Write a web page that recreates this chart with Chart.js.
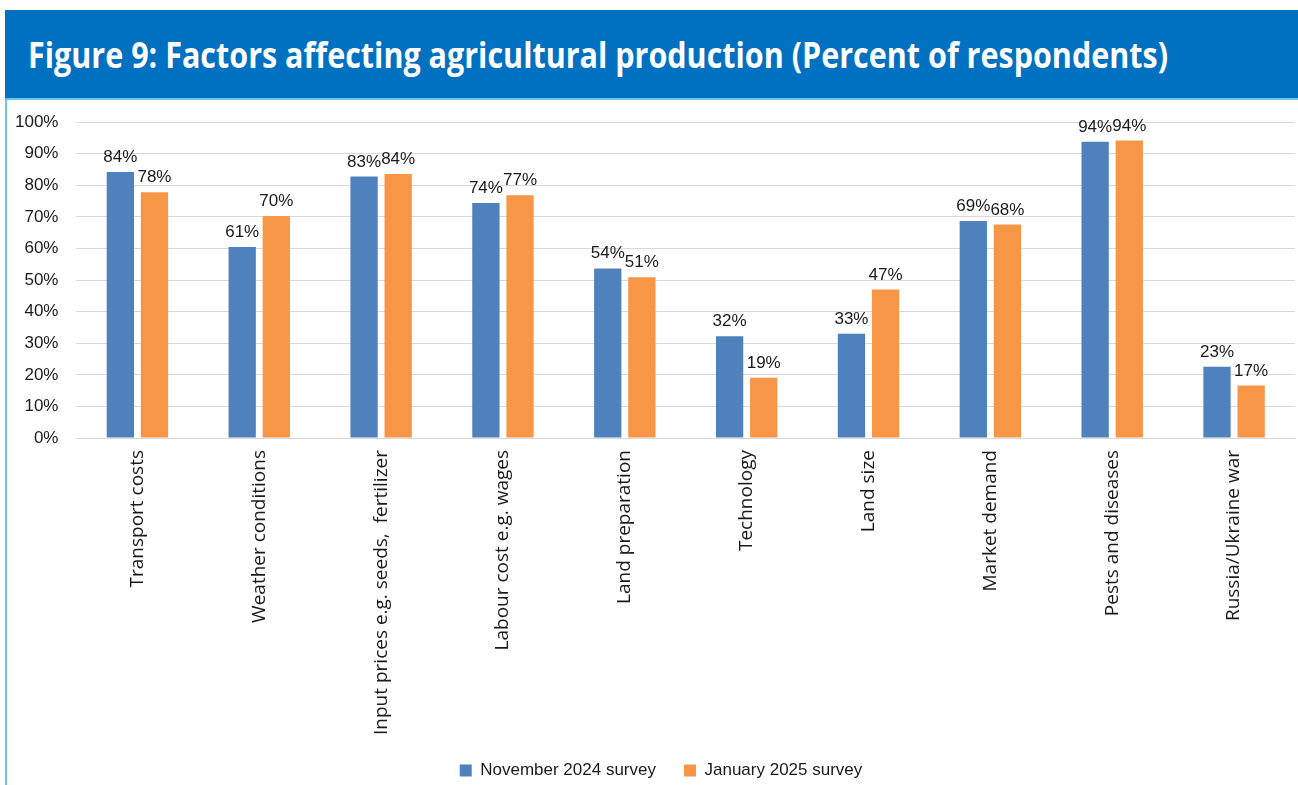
<!DOCTYPE html>
<html>
<head>
<meta charset="utf-8">
<script src="https://cdn.jsdelivr.net/npm/chart.js@4"></script>
<style>
  html, body { margin: 0; padding: 0; background: #fff; }
  body { width: 1298px; height: 785px; position: relative; overflow: hidden; }
  .banner {
    position: absolute; left: 5px; top: 10px; width: 1293px; height: 88px;
    background: #0070C0;
  }
  .banner span {
    position: absolute; left: 23px; top: 21px;
    font-family: "Open Sans", sans-serif; font-weight: 700; font-size: 35px;
    color: #fff; white-space: nowrap; transform-origin: 0 0;
  }
  .frame {
    position: absolute; left: 5px; top: 98px; width: 1293px; height: 687px;
    border-left: 2px solid #6cc4ee; border-top: 2px solid #6cc4ee;
    box-sizing: border-box;
  }
  /* the canvas runs a little past the page edges so the plot sits where it does in the figure */
  .chart-box { position: absolute; left: -11px; top: 94px; width: 1309px; height: 695px; }
</style>
</head>
<body>
<div class="banner"><span id="title">Figure 9: Factors affecting agricultural production (Percent of respondents)</span></div>
<div class="frame"></div>
<div class="chart-box"><canvas id="myChart"></canvas></div>
<script>
// data
const categories = [
  'Transport costs', 'Weather conditions', 'Input prices e.g. seeds,  fertilizer',
  'Labour cost e.g. wages', 'Land preparation', 'Technology', 'Land size',
  'Market demand', 'Pests and diseases', 'Russia/Ukraine war'
];
const nov2024 = [84.2, 60.5, 82.8, 74.4, 53.7, 32.2, 33.0, 68.7, 93.8, 22.6];
const jan2025 = [77.8, 70.3, 83.6, 76.9, 50.9, 19.1, 47.0, 67.6, 94.2, 16.6];
const yTicks = [0, 10, 20, 30, 40, 50, 60, 70, 80, 90, 100];

// squeeze the title to the width it has in the figure
const title = document.getElementById('title');
const tw = title.getBoundingClientRect().width;
title.style.transform = 'scaleX(' + (1140 / tw) + ')';

const labelFont = '"Liberation Sans", Arial, sans-serif';

// value labels above the bars
const barLabels = {
  id: 'barLabels',
  afterDatasetsDraw(chart) {
    const c = chart.ctx;
    c.save();
    c.font = '17px ' + labelFont;
    c.fillStyle = '#1a1a1a';
    c.textAlign = 'center';
    c.textBaseline = 'alphabetic';
    chart.data.datasets.forEach((ds, i) => {
      chart.getDatasetMeta(i).data.forEach((bar, j) => {
        c.fillText(Math.round(ds.data[j]) + '%', bar.x, bar.y - 10);
      });
    });
    c.restore();
  }
};

// the legend in the figure sits a bit right of the canvas centre
const nudgeLegend = {
  id: 'nudgeLegend',
  afterLayout(chart) {
    if (chart.legend) {
      chart.legend.left += 15;
      chart.legend.right += 15;
    }
  }
};

const canvas = document.getElementById('myChart');
new Chart(canvas, {
  type: 'bar',
  data: {
    labels: categories,
    datasets: [{
      label: 'November 2024 survey',
      data: nov2024,
      backgroundColor: '#4F81BD',
      barPercentage: 0.8,
      categoryPercentage: 0.56
    }, {
      label: 'January 2025 survey',
      data: jan2025,
      backgroundColor: '#F79646',
      barPercentage: 0.8,
      categoryPercentage: 0.56
    }]
  },
  options: {
    responsive: true,
    maintainAspectRatio: false,
    animation: false,
    layout: { padding: { left: 8, right: 3, top: 6, bottom: 0 } },
    scales: {
      y: {
        min: 0,
        max: 100,
        afterBuildTicks: (axis) => { axis.ticks = yTicks.map(v => ({ value: v })); },
        grid: { color: '#d9d9d9', drawTicks: false },
        border: { display: false },
        ticks: {
          padding: 18,
          color: '#1a1a1a',
          font: { family: labelFont, size: 17 },
          callback: (v) => v + '%'
        }
      },
      x: {
        afterFit: (scale) => { scale.height -= 13; },
        grid: { display: false, drawTicks: false },
        border: { display: true, color: '#d9d9d9' },
        ticks: {
          padding: 12,
          minRotation: 90,
          maxRotation: 90,
          autoSkip: false,
          color: '#1a1a1a',
          font: { family: '"Open Sans", sans-serif', size: 19 }
        }
      }
    },
    plugins: {
      legend: {
        position: 'bottom',
        labels: {
          boxWidth: 12,
          boxHeight: 12,
          padding: 28,
          color: '#1a1a1a',
          font: { family: labelFont, size: 17 }
        },
        onClick: null
      },
      tooltip: { enabled: false }
    }
  },
  plugins: [barLabels, nudgeLegend]
});
</script>
</body>
</html>
